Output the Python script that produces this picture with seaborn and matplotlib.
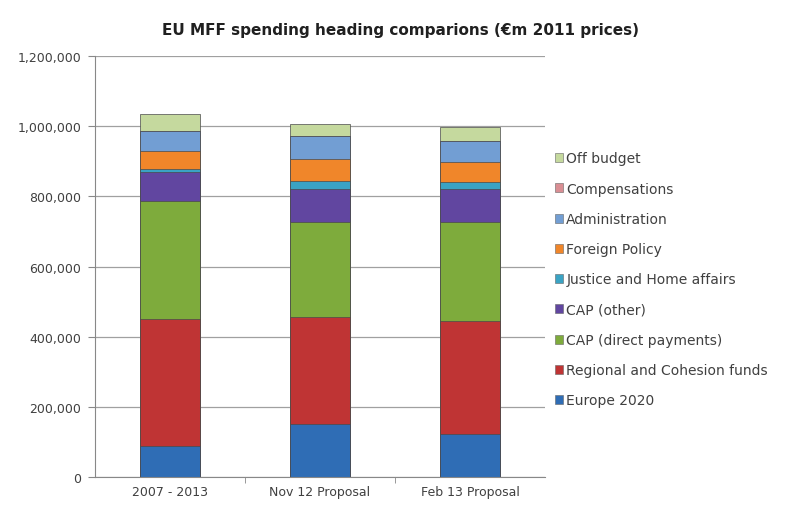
import matplotlib
matplotlib.use("Agg")
import matplotlib.pyplot as plt
import seaborn as sns
import pandas as pd
import numpy as np
from matplotlib.patches import Patch
from matplotlib.ticker import FuncFormatter

categories = ["2007 - 2013", "Nov 12 Proposal", "Feb 13 Proposal"]
series_names = ["Europe 2020", "Regional and Cohesion funds", "CAP (direct payments)",
                "CAP (other)", "Justice and Home affairs", "Foreign Policy",
                "Administration", "Compensations", "Off budget"]
europe_2020 = [89000, 151000, 122000]
regional = [361000, 305000, 322000]
cap_direct = [336000, 270000, 282000]
cap_other = [83000, 95000, 95000]
justice = [8000, 22000, 19000]
foreign = [52000, 63000, 57000]
administration = [57000, 65000, 60000]
compensations = [1000, 100, 100]
off_budget = [47000, 35000, 40000]
colors = ["#2f6db5", "#bf3434", "#7eab3c", "#6146a0", "#3aa3c4", "#f0862a",
          "#729ed3", "#d98e93", "#c5d99e"]

values = [europe_2020, regional, cap_direct, cap_other, justice, foreign,
          administration, compensations, off_budget]
df = pd.DataFrame({n: v for n, v in zip(series_names, values)})
df["category"] = categories
cum = df[series_names].cumsum(axis=1)

sns.set_style("white")
plt.rcParams["font.family"] = ["DejaVu Sans"]

fig = plt.figure(figsize=(7.85, 5.06), dpi=100)
ax = fig.add_axes([95/785, 28/506, 450/785, 421/506])

for name, col in reversed(list(zip(series_names, colors))):
    sns.barplot(x=categories, y=cum[name].values, color=col, width=0.4,
                ax=ax, saturation=1, edgecolor="#4a4a4a", linewidth=0.5, zorder=2)

ax.set_ylim(0, 1200000)
ax.set_xlim(-0.5, 2.5)
ax.set_yticks(np.arange(0, 1200001, 200000))
ax.yaxis.set_major_formatter(FuncFormatter(lambda v, p: f"{int(v):,}"))
ax.yaxis.grid(True, color="#a0a0a0", linewidth=0.9, zorder=0)
ax.set_axisbelow(True)
for s in ["top", "right"]:
    ax.spines[s].set_visible(False)
ax.spines["left"].set_color("#888888")
ax.spines["bottom"].set_color("#888888")
ax.tick_params(axis="y", length=5, color="#888888", labelsize=9, labelcolor="#404040", pad=5, left=True)
ax.set_xticks([0, 1, 2])
ax.set_xticklabels(categories)
ax.set_xticks([0.5, 1.5], minor=True)
ax.tick_params(axis="x", which="major", length=0, labelsize=9, labelcolor="#404040", pad=6)
ax.tick_params(axis="x", which="minor", length=4, color="#888888", bottom=True)
ax.set_xlabel("")
ax.set_ylabel("")

fig.text(0.51, 0.94, "EU MFF spending heading comparions (\u20acm 2011 prices)",
         ha="center", va="center", fontsize=11, fontweight="bold", color="#202020")

handles = [Patch(facecolor=c, edgecolor="#666666", linewidth=0.4, label=n)
           for n, c in zip(series_names, colors)][::-1]
fig.legend(handles=handles, loc="upper left", bbox_to_anchor=(542/785, 1 - 140/506),
           frameon=False, fontsize=10, handlelength=0.6, handleheight=0.6,
           handletextpad=0.25, labelspacing=1.17, labelcolor="#404040")

fig.savefig("out.png", dpi=100)
